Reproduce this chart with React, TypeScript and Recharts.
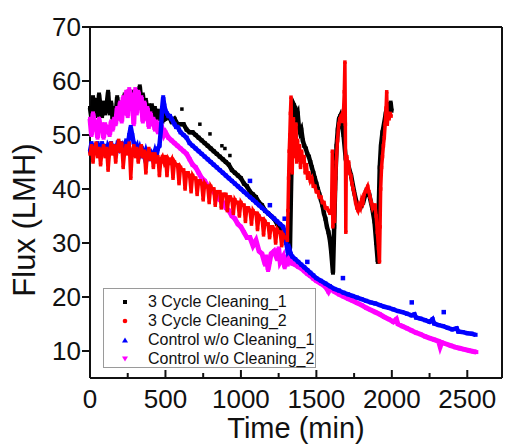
import React from "react";
import { ScatterChart, Scatter, XAxis, YAxis, ReferenceLine, Label } from "recharts";

const FONT = '"Liberation Sans", Arial, Helvetica, sans-serif';

const X_MAX = 2730;
const X_TICKS = [0, 250, 500, 750, 1000, 1250, 1500, 1750, 2000, 2250, 2500];
const Y_TICKS = [10, 20, 30, 40, 50, 60, 70];

// [time (min), flux (LMH)]
const cleaning1: [number, number][] = [
  [0,55],[10,53],[20,57],[30,54],[40,56.5],[50,53.5],[60,57.5],[70,55],[80,53.5],[90,56],[100,54],[110,55.5],[120,58],[130,54],[140,56],[150,53],[160,55],[170,53.5],[180,57],[190,54.5],[200,56],[210,53.5],[220,55],[230,57.5],[240,55.5],[250,58],[260,55],[270,57],[280,55.5],[290,58],[300,56.5],[310,55],[320,57.5],[330,59],[340,56],[350,57.5],[360,55],[370,56.5],[380,54],[390,55.5],[400,54],[410,55.5],[420,53.5],[430,55],[440,53],[450,54.5],[460,53],[470,54],[480,52.5],[490,53.5],[500,53],[520,53.5],[540,52.5],[560,53],[580,52],[600,52],[620,52],[640,51],[660,50.5],[680,50.5],[700,50],[720,49.5],[740,49],[760,48.5],[780,48],[800,47.5],[820,47],[840,46.5],[860,46],[880,45.5],[900,45],[920,44.5],[940,43.5],[960,43],[980,42.5],[1000,42],[1020,41],[1040,40.5],[1060,39.5],[1080,39],[1100,38.5],[1120,37.5],[1140,37],[1160,36],[1180,35.5],[1200,35],[1220,34.5],[1240,33.5],[1260,33],[1280,32],[1300,31],[1315,30],[1325,29],
  [1332,40],[1338,48],[1344,53],[1352,55.5],[1360,55],[1368,53.5],[1376,54],[1384,51.5],[1392,50.5],[1400,51],[1410,49],[1420,48],[1430,47.5],[1440,46.5],[1450,46],[1460,45],[1470,44],[1480,43],[1490,42],[1500,41],[1510,40],[1520,39],[1530,38],[1540,37],[1550,35.5],[1560,34.5],[1570,33],[1580,32],[1590,30.5],[1598,28.5],[1604,26.5],[1610,24.5],
  [1618,33],[1626,42],[1634,48],[1642,51],[1650,53],[1658,53.5],[1668,52],[1680,50],[1695,45.5],[1710,44.5],[1730,42.5],[1750,39.5],[1770,37],[1790,36.5],[1810,37.5],[1830,39.5],[1850,39],[1870,36.5],[1885,34],[1897,30],[1907,26.5],
  [1913,36],[1920,44],[1928,48],[1938,50.5],[1948,52],[1960,54],[1972,55.5],[1982,55],[1992,56],[1998,54.5],
];
const cleaning1Dots: [number, number][] = [
  [609,54.8],[728,52],[795,50.2],[874,48],[894,47.5],[927,46.2],
];

const cleaning2: [number, number][] = [
  [0,46.5],[10,48],[20,45],[30,47.5],[40,48.5],[50,46],[60,47.5],[70,44.5],[80,47],[90,48],[100,46],[110,47.5],[120,43.5],[130,47],[140,48.5],[150,46.5],[160,48],[170,45],[180,47.5],[190,49],[200,47],[210,48.5],[220,44],[230,47],[240,48],[250,46.5],[260,48.5],[270,42],[280,47],[290,48],[300,46],[310,47.5],[320,45],[330,47],[340,48],[350,46],[360,47],[370,43],[380,46.5],[390,47.5],[400,45.5],[410,46.5],[420,44],[430,46.5],[440,45],[450,46],[460,42.5],[470,45.5],[480,46],[490,45],
  [500,46],[510,42.5],[520,45.5],[530,45],[540,45.5],[550,42],[560,45],[570,44.5],[580,44.5],[590,41],[600,44],[610,43.5],[620,43.5],[630,40],[640,43],[650,43],[660,42.5],[670,39.5],[680,42.5],[690,42],[700,42],[710,39],[720,41.5],[730,41.5],[740,41],[750,38],[760,41],[770,40.5],[780,40.5],[790,37.5],[800,40.5],[810,40],[820,40],[830,37],[840,39.5],[850,39.5],[860,39.5],[870,36.5],[880,39],[890,39],[900,39],[910,36],[920,38.5],[930,38.5],[940,38],[950,35.5],[960,38],[970,37.5],[980,37.5],[990,35],[1000,37.5],[1010,37],[1020,37],[1030,34],[1040,36.5],[1050,36.5],[1060,36],[1070,33.5],[1080,36],[1090,35.5],[1100,35.5],[1110,32.5],[1120,35],[1130,34.5],[1140,34.5],[1150,31.5],[1160,34],[1170,33.5],[1180,33.5],[1190,31],[1200,33],[1210,33],[1220,32.5],[1230,30],[1240,32.5],[1250,32],[1260,32],[1270,29.5],[1280,31.5],[1290,31],[1300,31],[1308,30.5],
  [1312,36],[1316,42],[1320,47],[1324,50],[1328,54],[1332,57],[1336,50],[1340,43],[1344,48],[1348,53],[1352,46],[1356,51],[1360,48],[1365,52],[1370,45],[1375,49],[1380,47],[1388,48],[1395,44],[1402,47],[1410,45],[1418,46],[1426,43],[1434,44.5],[1442,42],[1450,43],[1460,41.5],[1470,42],[1480,40.5],[1490,40.5],[1500,39.5],[1510,39.5],[1520,38.5],[1530,38.5],[1540,37.5],[1550,37.5],[1560,36.5],[1570,36.5],[1580,36],[1590,35.5],[1600,35.5],[1606,47],[1609,33],[1614,35],[1620,34],
  [1626,40],[1632,45],[1640,49],[1648,52],[1656,53],[1664,53.5],[1672,52.5],[1680,54.5],[1685,58],[1689,63.5],[1692,52],[1695,32],[1698,44],[1702,46],[1708,44.5],[1714,45],[1720,43],[1728,42.5],[1736,41],[1744,40],[1752,39],[1760,37.5],[1768,36.5],[1776,36],[1784,37],[1792,36.5],[1800,38],[1808,37.5],[1816,39],[1824,39.5],[1832,40],[1840,40.5],[1848,39.5],[1856,38.5],[1864,37.5],[1872,36.5],[1880,37],[1888,37],[1896,35],[1904,32],[1912,29],[1918,26.5],
  [1922,33],[1926,40],[1932,44],[1938,46],[1944,48],[1950,49.5],[1956,52],[1962,55],[1966,58],[1970,52],[1976,54],[1982,53],[1990,54],[1995,53.5],
];

const control1: [number, number][] = [
  [0,47],[10,48.5],[20,46.5],[30,48],[40,47],[50,48.5],[60,46.5],[70,47.5],[80,48.5],[90,47],[100,48],[110,46.5],[120,48],[130,47.5],[140,48.5],[150,47],[160,48],[170,46.5],[180,48],[190,47.5],[200,48.5],[210,47],[220,48],[230,47.5],[240,49],[250,48],[260,50],[270,51.5],[280,50],[290,48.5],[300,47.5],[310,48],[320,46.5],[330,47.5],[340,46.5],[350,47],[360,46],[370,47],[380,46],[390,47],[400,45.5],[410,46.5],[420,46],[430,47],[440,46],[450,47.5],[460,48],[470,51],[478,55],[485,57],[492,55.5],
  [500,54.5],[510,54],[520,53.5],[530,53.5],[540,53],[550,52.5],[560,52],[570,51.5],[580,51.5],[590,51],[600,50.5],[620,50],[640,49.5],[660,48.5],[680,48],[700,47.5],[720,47],[740,46.5],[760,46],[780,45.5],[800,45],[820,44.5],[840,44],[860,43.5],[880,43],[900,42.5],[920,42],[940,41.5],[960,41],[980,40.5],[1000,40],[1020,39.5],[1040,39],[1060,38.5],[1080,38],[1100,37.5],[1120,37],[1140,36.5],[1160,36],[1180,35.5],[1200,35],[1220,34.5],[1240,34],[1260,33.5],[1280,33],[1290,32],[1300,30],[1310,28.5],[1320,29],[1330,28],[1340,27.5],[1360,27],[1380,26.5],[1400,26],[1420,25.5],[1440,25],[1460,24.5],[1480,24],[1500,23.5],[1530,23],[1560,22.5],[1590,22],[1620,21.5],[1650,21.2],[1680,20.8],[1710,20.5],[1740,20.2],[1770,19.9],[1800,19.6],[1830,19.3],[1860,19],[1890,18.8],[1920,18.5],[1950,18.2],[1980,18],[2010,17.7],[2040,17.4],[2070,17.2],[2100,16.9],[2130,16.6],[2150,16.8],[2160,16.2],[2190,16],[2220,15.7],[2250,15.4],[2270,15.9],[2280,15.1],[2310,14.8],[2340,14.6],[2370,14.3],[2400,14],[2430,14.2],[2440,13.6],[2470,13.5],[2500,13.3],[2530,13.2],[2555,13],
];
const control1Dots: [number, number][] = [
  [1060,41.5],[1192,37],[1290,34.5],[1440,26.5],[1676,23.5],[2132,19],[2344,17.2],
];

const control2: [number, number][] = [
  [0,53],[10,50],[20,54],[30,51],[40,52.5],[50,49.5],[60,53],[70,51],[80,52],[90,49.5],[100,52],[110,50.5],[120,51.5],[130,50],[140,52.5],[150,51],[160,53],[170,52],[180,55],[190,53],[200,56],[210,52.5],[220,57],[230,54],[240,58],[250,53.5],[260,58.5],[270,55],[280,57.5],[290,52],[300,58.5],[310,54],[320,58],[330,55],[340,57],[350,52.5],[360,56],[370,53],[380,55],[390,51.5],[400,54],[410,52],[420,53],[430,51],[440,52.5],[450,50.5],[460,52],[470,50.5],[480,51],[490,50],
  [500,50.5],[520,49.5],[540,49],[560,48.5],[580,48],[600,47.5],[620,47],[640,46.5],[660,45.5],[680,44.5],[700,44],[720,43],[740,42],[760,41.5],[780,40.5],[800,40],[820,39.5],[840,38.5],[860,38],[880,37.5],[900,36.5],[920,36],[940,35],[960,34.5],[980,33.5],[1000,33],[1020,32],[1040,31],[1060,31],[1080,29.5],[1100,30.5],[1120,28.5],[1140,28],[1160,26],[1170,27.5],[1180,25],[1190,26.5],[1200,28],[1220,28.5],[1240,27],[1250,29],[1260,26.5],[1280,27.5],[1290,25.5],[1300,27.5],[1310,26],[1320,27],[1340,26.2],[1360,26],[1380,25.6],[1400,25.3],[1420,24.8],[1440,24.3],[1460,23.9],[1480,23.4],[1500,23],[1530,22.5],[1560,21.9],[1580,21],[1590,21.6],[1620,21],[1650,20.5],[1680,20.1],[1710,19.7],[1740,19.3],[1770,18.9],[1800,18.5],[1830,18],[1860,17.6],[1890,17.2],[1920,16.8],[1950,16.3],[1980,15.9],[2010,15.4],[2030,15.9],[2040,15],[2070,14.6],[2100,14.2],[2130,13.8],[2160,13.4],[2190,13.1],[2220,12.7],[2250,12.4],[2280,12.1],[2310,11.8],[2320,10.8],[2330,11.6],[2360,11.3],[2390,11],[2420,10.7],[2450,10.5],[2480,10.3],[2510,10.1],[2540,9.9],[2560,9.8],
];

const LEGEND = [
  { name: "3 Cycle Cleaning_1", color: "#000000", marker: "square" },
  { name: "3 Cycle Cleaning_2", color: "#ff0000", marker: "circle" },
  { name: "Control w/o Cleaning_1", color: "#0000ff", marker: "up" },
  { name: "Control w/o Cleaning_2", color: "#ff00ff", marker: "down" },
];

const toPts = (a: [number, number][]) => a.map(([t, v]) => ({ t, v }));

const dot = (color: string, s: number) => (p: any) =>
  <rect x={p.cx - s / 2} y={p.cy - s / 2} width={s} height={s} fill={color} />;

function XTick(props: any) {
  const { x, y, payload } = props;
  const major = payload.value % 500 === 0;
  return (
    <g>
      <line x1={x} x2={x} y1={y} y2={y - (major ? 8 : 5)} stroke="#111" strokeWidth={2} />
      {major && (
        <text x={x} y={y + 30} textAnchor="middle" fontSize={26} fill="#111" fontFamily={FONT}>
          {payload.value}
        </text>
      )}
    </g>
  );
}

function Marker({ kind, color }: { kind: string; color: string }) {
  return (
    <svg width={8} height={8} style={{ display: "block" }}>
      {kind === "square" && <rect x={2} y={2} width={4} height={4} fill={color} />}
      {kind === "circle" && <circle cx={4} cy={4} r={2.3} fill={color} />}
      {kind === "up" && <polygon points="4,1.5 7,6.5 1,6.5" fill={color} />}
      {kind === "down" && <polygon points="1,1.5 7,1.5 4,6.5" fill={color} />}
    </svg>
  );
}

export default function App() {
  return (
    <div style={{ position: "absolute", left: 0, top: 0, width: 505, height: 447, background: "#fff" }}>
      <ScatterChart width={505} height={447} margin={{ top: 27, right: 3, bottom: 0, left: 0 }}>
        <XAxis
          type="number"
          dataKey="t"
          domain={[0, X_MAX]}
          ticks={X_TICKS}
          interval={0}
          height={69}
          tickSize={0}
          tickMargin={0}
          tick={<XTick />}
          axisLine={{ stroke: "#111", strokeWidth: 2 }}
          tickLine={false}
        >
          <Label
            content={() => (
              <text x={296} y={438} textAnchor="middle" fontSize={29} fill="#111" fontFamily={FONT}>
                Time (min)
              </text>
            )}
          />
        </XAxis>
        <YAxis
          type="number"
          dataKey="v"
          domain={[5, 70]}
          ticks={Y_TICKS}
          interval={0}
          width={90}
          tickSize={8}
          tickMargin={1}
          tick={{ fontSize: 26, fill: "#111", fontFamily: FONT }}
          axisLine={{ stroke: "#111", strokeWidth: 2 }}
          tickLine={{ stroke: "#111", strokeWidth: 2 }}
        >
          <Label
            content={() => (
              <text
                x={35}
                y={220}
                transform="rotate(-90 35 220)"
                textAnchor="middle"
                fontSize={31}
                fill="#111"
                fontFamily={FONT}
              >
                Flux (LMH)
              </text>
            )}
          />
        </YAxis>
        <ReferenceLine y={70} stroke="#111" strokeWidth={2} ifOverflow="visible" />
        <ReferenceLine x={X_MAX} stroke="#111" strokeWidth={2} ifOverflow="visible" />

        <Scatter data={toPts(cleaning1)} line={{ stroke: "#000", strokeWidth: 4.5 }} shape={dot("#000", 4)} isAnimationActive={false} />
        <Scatter data={toPts(cleaning1Dots)} shape={dot("#000", 3.5)} isAnimationActive={false} />
        <Scatter data={toPts(control2)} line={{ stroke: "#ff00ff", strokeWidth: 5 }} shape={dot("#ff00ff", 4)} isAnimationActive={false} />
        <Scatter data={toPts(control1)} line={{ stroke: "#0000ff", strokeWidth: 4.5 }} shape={dot("#0000ff", 4)} isAnimationActive={false} />
        <Scatter data={toPts(control1Dots)} shape={dot("#0000ff", 4.5)} isAnimationActive={false} />
        <Scatter data={toPts(cleaning2)} line={{ stroke: "#ff0000", strokeWidth: 3.5 }} shape={dot("#ff0000", 3.5)} isAnimationActive={false} />
      </ScatterChart>

      <div
        style={{
          position: "absolute",
          left: 103,
          top: 288,
          width: 211,
          height: 78,
          border: "1px solid #9a9a9a",
          background: "#fff",
          fontFamily: FONT,
          fontSize: 16,
          color: "#111",
        }}
      >
        {LEGEND.map((d, i) => (
          <div
            key={d.name}
            style={{ position: "absolute", left: 17, top: 3 + i * 19, height: 19, display: "flex", alignItems: "center" }}
          >
            <Marker kind={d.marker} color={d.color} />
            <span style={{ marginLeft: 19, whiteSpace: "nowrap" }}>{d.name}</span>
          </div>
        ))}
      </div>
    </div>
  );
}
